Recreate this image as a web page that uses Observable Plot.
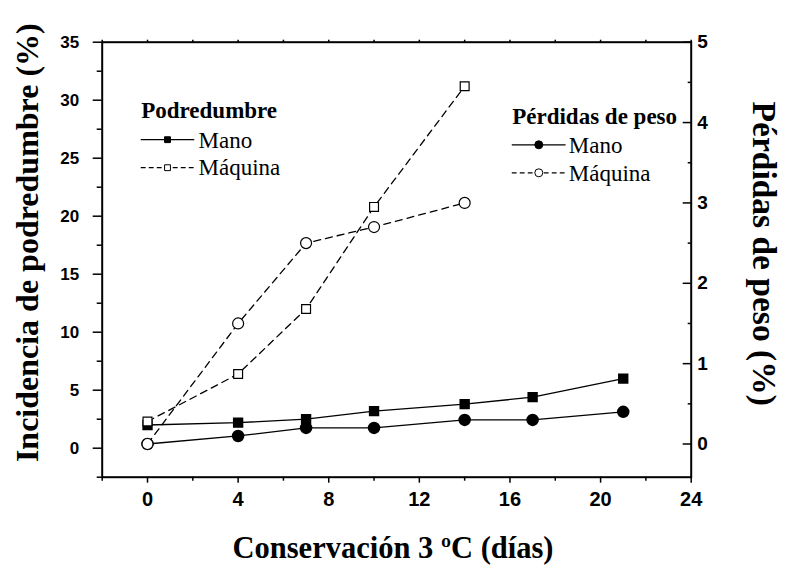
<!DOCTYPE html>
<html><head><meta charset="utf-8">
<script src="https://cdn.jsdelivr.net/npm/d3@7"></script>
<script src="https://cdn.jsdelivr.net/npm/@observablehq/plot@0.6"></script>
<style>body{margin:0;background:#fff} #chart{width:788px;height:566px}</style>
</head><body><div id="chart"></div>
<script>
// ---- data ----
const podManoDias = [0, 4, 7, 10, 14, 17, 21];
const podMano = [2.0, 2.2, 2.5, 3.2, 3.8, 4.4, 6.0];
const podMaqDias = [0, 4, 7, 10, 14];
const podMaq = [2.3, 6.4, 12.0, 20.8, 31.2];
const pesoManoDias = [0, 4, 7, 10, 14, 17, 21];
const pesoMano = [0.0, 0.1, 0.2, 0.2, 0.3, 0.3, 0.4];
const pesoMaqDias = [0, 4, 7, 10, 14];
const pesoMaq = [0.0, 1.5, 2.5, 2.7, 3.0];
const xTicks = [0, 4, 8, 12, 16, 20, 24];
const xMinor = [-2, 2, 6, 10, 14, 18, 22];
const leftTicks = [0, 5, 10, 15, 20, 25, 30, 35];
const leftMinor = [-2.5, 2.5, 7.5, 12.5, 17.5, 22.5, 27.5, 32.5];
const rightTicks = [0, 1, 2, 3, 4, 5];
const rightMinor = [0.5, 1.5, 2.5, 3.5, 4.5];
const legendTitles = ["Podredumbre", "Pérdidas de peso"];
const legendLabels = ["Mano", "Máquina"];
const xLabel = "Conservación 3 ºC (días)";
const yLeftLabel = "Incidencia de podredumbre (%)";
const yRightLabel = "Pérdidas de peso (%)";

// ---- scales ----
const leftDomain = [-2.5, 35];
const rightDomain = [-0.413, 5];
const toLeft = v => leftDomain[0] + (v - rightDomain[0]) * (leftDomain[1] - leftDomain[0]) / (rightDomain[1] - rightDomain[0]);
const fromLeft = v => rightDomain[0] + (v - leftDomain[0]) * (rightDomain[1] - rightDomain[0]) / (leftDomain[1] - leftDomain[0]);

const rows = (xs, ys, f = v => v) => xs.map((x, i) => ({x, y: f(ys[i])}));
const dPodMano = rows(podManoDias, podMano);
const dPodMaq = rows(podMaqDias, podMaq);
const dPesoMano = rows(pesoManoDias, pesoMano, toLeft);
const dPesoMaq = rows(pesoMaqDias, pesoMaq, toLeft);

const serif = "'Liberation Serif', 'Times New Roman', serif";
const sans = "'Liberation Sans', Arial, sans-serif";
const dash = "7,5";
const lw = 1.3;
const lineShape = {draw(ctx, l) { ctx.moveTo(0, 0); ctx.lineTo(0, -l); }};

function legendBlock(title, sym, ox, titleDy, rows2, lineLen, markDx, textDx, markR) {
  const marks = [];
  marks.push(Plot.text([title], {frameAnchor: "top-left", text: d => d, dx: ox, dy: titleDy,
    textAnchor: "start", lineAnchor: "middle", fontFamily: serif, fontWeight: "bold", fontSize: 23, fill: "black"}));
  legendLabels.forEach((lab, i) => {
    const r = rows2[i];
    const dashed = i === 1;
    marks.push(Plot.vector([lab], {frameAnchor: "top-left", dx: ox, dy: r.line, rotate: 90,
      length: lineLen, anchor: "start", shape: lineShape, stroke: "black", strokeWidth: 1.2,
      strokeDasharray: dashed ? "4,4" : null}));
    marks.push(Plot.dot([lab], {frameAnchor: "top-left", dx: ox + markDx, dy: r.line, symbol: sym,
      r: markR, fill: dashed ? "white" : "black", stroke: "black", strokeWidth: 1}));
    marks.push(Plot.text([lab], {frameAnchor: "top-left", text: d => d, dx: ox + textDx, dy: r.text,
      textAnchor: "start", lineAnchor: "middle", fontFamily: serif, fontSize: 23, fill: "black"}));
  });
  return marks;
}

const chart = Plot.plot({
  width: 788,
  height: 566,
  marginLeft: 101.7,
  marginRight: 97.3,
  marginTop: 41.7,
  marginBottom: 89.3,
  style: {fontFamily: sans, background: "white", color: "black"},
  x: {domain: [-2, 24], label: null},
  y: {domain: leftDomain, label: null},
  marks: [
    // minor / top ticks
    Plot.axisX(xMinor, {anchor: "bottom", tickSize: 4, tickFormat: () => "", label: null, strokeWidth: 1.5}),
    Plot.axisX([...xMinor, ...xTicks], {anchor: "top", tickSize: 3, tickFormat: () => "", label: null, strokeWidth: 1.5}),
    Plot.axisY(leftMinor, {anchor: "left", tickSize: 5, tickFormat: () => "", label: null, strokeWidth: 1.5}),
    Plot.axisY(rightMinor.map(toLeft), {anchor: "right", tickSize: -4, tickFormat: () => "", label: null, strokeWidth: 1.5}),
    // major axes
    Plot.axisX(xTicks, {anchor: "bottom", tickSize: 6, tickPadding: 9, label: null, strokeWidth: 1.5,
      fontSize: 20, fontWeight: "bold", fontFamily: sans}),
    Plot.axisY(leftTicks, {anchor: "left", tickSize: 9, tickPadding: 14, label: null, strokeWidth: 1.5,
      fontSize: 17, fontWeight: "bold", fontFamily: sans}),
    Plot.axisY(rightTicks.map(toLeft), {anchor: "right", tickSize: -9, tickPadding: 15, label: null, strokeWidth: 1.5,
      tickFormat: d => String(Math.round(fromLeft(d))), fontSize: 19, fontWeight: "bold", fontFamily: sans}),
    Plot.frame({stroke: "black", strokeWidth: 2}),
    // data lines
    Plot.line(dPodMano, {x: "x", y: "y", stroke: "black", strokeWidth: lw}),
    Plot.line(dPesoMano, {x: "x", y: "y", stroke: "black", strokeWidth: lw}),
    Plot.line(dPodMaq, {x: "x", y: "y", stroke: "black", strokeWidth: lw, strokeDasharray: dash}),
    Plot.line(dPesoMaq, {x: "x", y: "y", stroke: "black", strokeWidth: lw, strokeDasharray: dash}),
    // markers
    Plot.dot(dPodMano, {x: "x", y: "y", symbol: "square", r: 5, fill: "black", stroke: "black"}),
    Plot.dot(dPesoMano, {x: "x", y: "y", symbol: "circle", r: 5.5, fill: "black", stroke: "black"}),
    Plot.dot(dPodMaq, {x: "x", y: "y", symbol: "square", r: 5, fill: "white", stroke: "black", strokeWidth: 1.2}),
    Plot.dot(dPesoMaq, {x: "x", y: "y", symbol: "circle", r: 5.5, fill: "white", stroke: "black", strokeWidth: 1.2}),
    // legends
    ...legendBlock(legendTitles[0], "square", 39, 68, [{line: 97.5, text: 98}, {line: 125.5, text: 125.5}], 52.6, 26.3, 57.3, 3.3),
    ...legendBlock(legendTitles[1], "circle", 410, 74.6, [{line: 102.6, text: 103}, {line: 130.6, text: 131.3}], 53, 26.6, 56.6, 4),
    // axis titles
    Plot.text([yLeftLabel], {frameAnchor: "left", text: d => d, dx: -74, dy: -17, rotate: -90,
      textAnchor: "middle", lineAnchor: "middle",
      fontFamily: serif, fontWeight: "bold", fontSize: 32, fill: "black"}),
    Plot.text([yRightLabel], {frameAnchor: "right", text: d => d, dx: 73, dy: -6, rotate: 90,
      textAnchor: "middle", lineAnchor: "middle",
      fontFamily: serif, fontWeight: "bold", fontSize: 33.5, fill: "black"}),
    Plot.text([xLabel], {frameAnchor: "bottom", text: d => d, dx: -3.7, dy: 71,
      textAnchor: "middle", lineAnchor: "middle",
      fontFamily: serif, fontWeight: "bold", fontSize: 30.5, fill: "black"})
  ]
});
document.getElementById("chart").appendChild(chart);
</script>
</body></html>
